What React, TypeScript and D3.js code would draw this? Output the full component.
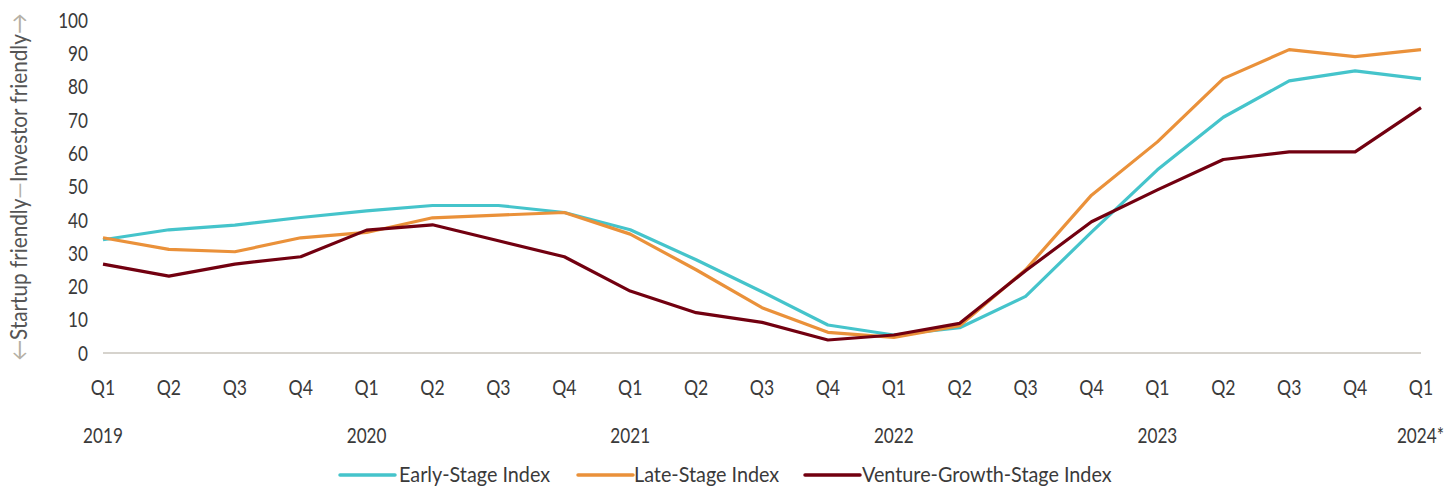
import React from "react";
import * as d3 from "d3";

const quarters = ["Q1","Q2","Q3","Q4","Q1","Q2","Q3","Q4","Q1","Q2","Q3","Q4","Q1","Q2","Q3","Q4","Q1","Q2","Q3","Q4","Q1"];
const yearLabels = [
  { idx: 0, label: "2019" },
  { idx: 4, label: "2020" },
  { idx: 8, label: "2021" },
  { idx: 12, label: "2022" },
  { idx: 16, label: "2023" },
  { idx: 20, label: "2024*" },
];
const yTicks = [0, 10, 20, 30, 40, 50, 60, 70, 80, 90, 100];

const earlyStage = [34, 37, 38.4, 40.7, 42.7, 44.3, 44.3, 42.2, 37, 28, 18.4, 8.4, 5.4, 7.6, 17, 36.3, 55, 70.8, 81.7, 84.7, 82.3];
const lateStage = [34.6, 31.1, 30.4, 34.6, 36.2, 40.6, 41.4, 42.2, 35.7, 25, 13.6, 6.2, 4.7, 8.2, 25, 47.4, 63.4, 82.4, 91.1, 89, 91.1];
const ventureGrowth = [26.7, 23.1, 26.7, 28.9, 36.9, 38.5, 33.7, 28.9, 18.6, 12.1, 9.2, 3.9, 5.4, 8.9, 24.7, 39.4, 49, 58.1, 60.4, 60.4, 73.7];

const seriesNames = ["Early-Stage Index", "Late-Stage Index", "Venture-Growth-Stage Index"];
const seriesColors = ["#45C4CB", "#EA913A", "#720010"];
const seriesData = [earlyStage, lateStage, ventureGrowth];

const FONT = "Lato, 'Open Sans', 'Liberation Sans', sans-serif";
const SX = 0.8;
const FS = 22;

function T(props: { x: number; y: number; anchor?: string; children: React.ReactNode; fill?: string; rotate?: number; sx?: number; fs?: number }) {
  const { x, y, anchor = "start", children, fill = "#3a3a3a", rotate = 0, sx = SX, fs = FS } = props;
  return (
    <text
      transform={`translate(${x},${y}) rotate(${rotate}) scale(${sx},1)`}
      textAnchor={anchor}
      dy="0.35em"
      fontSize={fs}
      fontWeight={400}
      fill={fill}
    >
      {children}
    </text>
  );
}

export default function App() {
  const W = 1445, H = 487;
  const x = d3.scaleLinear().domain([0, quarters.length - 1]).range([103, 1421]);
  const y = d3.scaleLinear().domain([0, 100]).range([353, 20]);
  const line = d3.line<number>().x((_, i) => x(i)).y((d) => y(d));

  const legendItems = [
    { sx: 340, tx: 399 },
    { sx: 578, tx: 634 },
    { sx: 805, tx: 862 },
  ];

  return (
    <svg width={W} height={H} style={{ position: "absolute", left: 0, top: 0, background: "#fff" }} fontFamily={FONT}>
      {/* y-axis label */}
      <T x={19} y={187} rotate={-90} anchor="middle" fill="#555" sx={0.9} fs={23}>
        <tspan fill="#b5b0a5">←</tspan>
        <tspan>Startup friendly</tspan>
        <tspan fill="#b5b0a5">—</tspan>
        <tspan>Investor friendly</tspan>
        <tspan fill="#b5b0a5">→</tspan>
      </T>
      {/* y ticks */}
      {yTicks.map((t) => (
        <T key={t} x={88} y={y(t)} anchor="end" sx={0.78}>
          {t}
        </T>
      ))}
      {/* baseline */}
      <line x1={x(0)} x2={x(quarters.length - 1)} y1={y(0)} y2={y(0)} stroke="#c9c5bd" strokeWidth={1.5} />
      {/* quarter labels */}
      {quarters.map((q, i) => (
        <T key={i} x={x(i)} y={387} anchor="middle">
          {q}
        </T>
      ))}
      {yearLabels.map((yl) => (
        <T key={yl.label} x={yl.idx === 20 ? 1444 : x(yl.idx)} y={435} anchor={yl.idx === 20 ? "end" : "middle"} sx={0.78}>
          {yl.label}
        </T>
      ))}
      {/* lines */}
      {seriesData.map((s, k) => (
        <path key={k} d={line(s) || ""} fill="none" stroke={seriesColors[k]} strokeWidth={3.2} strokeLinejoin="round" />
      ))}
      {/* legend */}
      {seriesNames.map((n, k) => (
        <g key={n}>
          <line x1={legendItems[k].sx} x2={legendItems[k].sx + 55} y1={475} y2={475} stroke={seriesColors[k]} strokeWidth={3.5} strokeLinecap="round" />
          <T x={legendItems[k].tx} y={474} sx={0.9}>
            {n}
          </T>
        </g>
      ))}
    </svg>
  );
}
